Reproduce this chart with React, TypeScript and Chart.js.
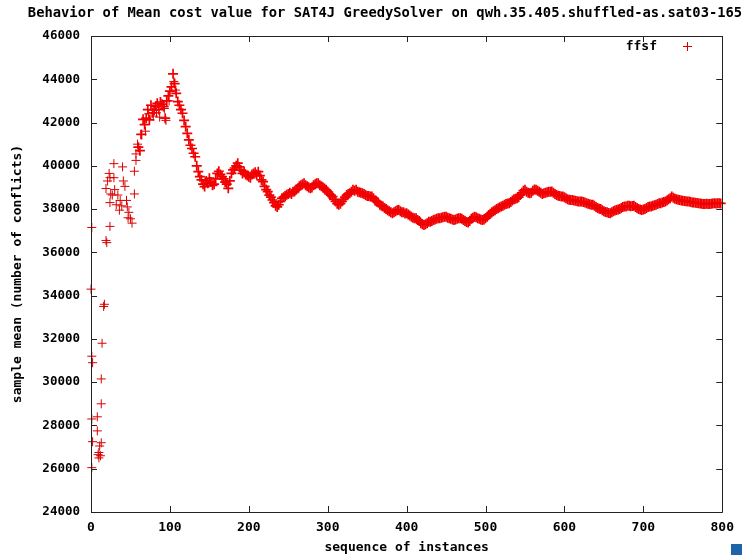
import React, { useEffect, useRef } from "react";
import { Chart, registerables } from "chart.js";

Chart.register(...registerables);

const chartTitle =
  "Behavior of Mean cost value for SAT4J GreedySolver on qwh.35.405.shuffled-as.sat03-165";
const xAxisTitle = "sequence of instances";
const yAxisTitle = "sample mean (number of conflicts)";
const seriesName = "ffsf";

const xTicks = [0, 100, 200, 300, 400, 500, 600, 700, 800];
const yTicks = [24000, 26000, 28000, 30000, 32000, 34000, 36000, 38000, 40000, 42000, 44000, 46000];

// scattered early points (instance index, running mean)
const scatterX = [
  0, 1, 1, 2, 1, 2, 1, 8, 8, 9, 10, 10, 11, 12, 13, 13, 13, 14, 16, 17, 19, 20, 24,
  19, 21, 23, 24, 25, 24, 27, 29, 29, 30, 32, 34, 36, 37, 39, 40, 41, 43, 45, 46, 47,
  48, 50, 52, 55, 55, 57, 57, 59, 63, 69, 73, 79, 83, 87, 93, 95, 99, 105, 107,
];
const scatterY = [
  34300, 37150, 31200, 30900, 28300, 27250, 26050, 28400, 27750, 26650, 26750, 26500,
  27050, 26600, 30150, 29000, 27200, 31800, 33500, 33600, 36550, 36450, 37200, 38950,
  39300, 39650, 38300, 38700, 39450, 38650, 39450, 40100, 38900, 38200, 38650, 37950,
  38400, 38150, 39950, 39300, 39050, 38400, 38100, 37600, 37850, 37550, 37350, 38700,
  39750, 40250, 40550, 41000, 41450, 41600, 42400, 42300, 42450, 42250, 42650, 42100,
  43000, 43900, 43500,
];

// dense part: every second instance starting at 60
const denseStart = 60;
const denseStep = 2;
const denseY = [
  40860, 40700, 41450, 42150, 41900, 42200, 42600, 42120, 42800, 42450,
  42580, 42750, 42890, 42600, 42950, 42850, 42740, 42200, 43000, 43230,
  43450, 43650, 44250, 43800, 43350, 42970, 42800, 42600, 42430, 42100,
  41810, 41500, 41200, 40950, 40800, 40580, 40420, 40000, 39730, 39500,
  39350, 39150, 39040, 39300, 39200, 39430, 39250, 39100, 39150, 39400,
  39650, 39750, 39600, 39500, 39400, 39250, 39150, 38960, 39300, 39650,
  39810, 39900, 40000, 40120, 39950, 39800, 39650, 39730, 39600, 39550,
  39500, 39450, 39600, 39650, 39700, 39600, 39730, 39550, 39350, 39270,
  39050, 38900, 38810, 38650, 38550, 38420, 38300, 38150, 38100, 38200,
  38350, 38500, 38550, 38600, 38660, 38700, 38750, 38700, 38800, 38810,
  38900, 38950, 39050, 39100, 39150, 39190, 39100, 39050, 39000, 38960,
  39000, 39100, 39150, 39200, 39190, 39100, 39050, 39000, 38950, 38890,
  38800, 38700, 38650, 38580, 38450, 38350, 38250, 38200, 38250, 38350,
  38450, 38550, 38650, 38700, 38730, 38800, 38890, 38850, 38890, 38800,
  38780, 38750, 38730, 38700, 38650, 38600, 38600, 38580, 38580, 38500,
  38400, 38350, 38300, 38200, 38150, 38120, 38050, 38000, 37950, 37900,
  37850, 37810, 37850, 37900, 37950, 37960, 37900, 37850, 37850, 37800,
  37810, 37750, 37700, 37650, 37600, 37580, 37580, 37500, 37450, 37350,
  37300, 37270, 37300, 37350, 37420, 37420, 37450, 37500, 37520, 37550,
  37580, 37580, 37600, 37620, 37650, 37650, 37600, 37580, 37550, 37520,
  37500, 37520, 37550, 37580, 37580, 37550, 37500, 37450, 37400, 37380,
  37450, 37550, 37600, 37650, 37620, 37580, 37550, 37520, 37500, 37520,
  37580, 37650, 37730, 37780, 37850, 37900, 37950, 38000, 38040, 38080,
  38120, 38160, 38200, 38230, 38260, 38270, 38330, 38400, 38450, 38480,
  38500, 38550, 38650, 38750, 38850, 38890, 38800, 38750, 38730, 38750,
  38850, 38900, 38890, 38850, 38800, 38750, 38700, 38730, 38750, 38780,
  38800, 38800, 38810, 38750, 38700, 38650, 38620, 38600, 38580, 38580,
  38550, 38500, 38450, 38430, 38420, 38420, 38400, 38380, 38360, 38350,
  38350, 38350, 38330, 38300, 38270, 38250, 38220, 38200, 38200, 38150,
  38100, 38050, 38020, 38000, 37950, 37900, 37870, 37850, 37820, 37810,
  37850, 37900, 37930, 37960, 37980, 38000, 38050, 38100, 38120, 38120,
  38150, 38150, 38130, 38140, 38150, 38100, 38050, 38000, 37980, 37960,
  37980, 38000, 38050, 38100, 38120, 38120, 38150, 38180, 38200, 38230,
  38270, 38270, 38300, 38330, 38350, 38400, 38450, 38500, 38580, 38520,
  38480, 38450, 38430, 38420, 38400, 38380, 38370, 38360, 38350, 38350,
  38330, 38310, 38300, 38290, 38280, 38270, 38260, 38250, 38240, 38240,
  38250, 38240, 38240, 38250, 38260, 38270, 38260, 38270, 38270, 38260,
];

const FONT = '"DejaVu Sans Mono", "Liberation Mono", monospace';
const RED = "#f00000";
const RED_SPARSE = "#d80000";

const framePlugin = {
  id: "gnuplotFrame",
  afterDraw(chart: any) {
    const { ctx, chartArea } = chart;
    const { left, right, top, bottom } = chartArea;
    const xs = chart.scales.x;
    const ys = chart.scales.y;
    ctx.save();
    ctx.strokeStyle = "#222";
    ctx.lineWidth = 1;
    ctx.beginPath();
    ctx.rect(Math.round(left) + 0.5, Math.round(top) + 0.5, Math.round(right - left), Math.round(bottom - top));
    ctx.stroke();
    const tl = 6;
    ctx.beginPath();
    xTicks.forEach((v) => {
      const px = Math.round(xs.getPixelForValue(v)) + 0.5;
      ctx.moveTo(px, bottom);
      ctx.lineTo(px, bottom - tl);
      ctx.moveTo(px, top);
      ctx.lineTo(px, top + tl);
    });
    yTicks.forEach((v) => {
      const py = Math.round(ys.getPixelForValue(v)) + 0.5;
      ctx.moveTo(left, py);
      ctx.lineTo(left + tl, py);
      ctx.moveTo(right, py);
      ctx.lineTo(right - tl, py);
    });
    ctx.stroke();

    // title
    ctx.fillStyle = "#000";
    ctx.font = `bold 13.8px ${FONT}`;
    ctx.textAlign = "center";
    ctx.textBaseline = "middle";
    ctx.fillText(chartTitle, 385, 13);

    // legend inside plot
    ctx.font = `bold 13px ${FONT}`;
    ctx.textAlign = "right";
    ctx.fillText(seriesName, 657, 47);
    ctx.strokeStyle = RED_SPARSE;
    ctx.beginPath();
    ctx.moveTo(683, 46.5);
    ctx.lineTo(692, 46.5);
    ctx.moveTo(687.5, 42);
    ctx.lineTo(687.5, 51);
    ctx.stroke();

    // page corner decoration
    ctx.fillStyle = "#1f63a8";
    ctx.fillRect(731, 544, 11, 11);
    ctx.restore();
  },
};

export default function App() {
  const ref = useRef<HTMLCanvasElement | null>(null);

  useEffect(() => {
    document.body.style.margin = "0";
    const canvas = ref.current;
    if (!canvas) return;
    const points: { x: number; y: number }[] = [];
    scatterX.forEach((x, i) => points.push({ x, y: scatterY[i] }));
    denseY.forEach((y, i) => points.push({ x: denseStart + i * denseStep, y }));
    const nSparse = scatterX.length;

    const tickFont = { family: FONT, weight: "bold" as const, size: 13 };
    const chart = new Chart(canvas, {
      type: "scatter",
      data: {
        datasets: [
          {
            label: seriesName,
            data: points,
            showLine: false,
            clip: false,
            pointStyle: "cross",
            pointRadius: (c: any) => (c.dataIndex < nSparse ? 4.5 : 5),
            pointHoverRadius: 5,
            borderWidth: (c: any) => (c.dataIndex < nSparse ? 1 : 1.7),
            borderColor: (c: any) => (c.dataIndex < nSparse ? RED_SPARSE : RED),
            backgroundColor: RED,
          },
        ],
      },
      options: {
        animation: false,
        responsive: false,
        devicePixelRatio: 1,
        layout: { padding: { top: 36, right: 19, left: 0, bottom: 0 } },
        plugins: {
          legend: { display: false },
          title: { display: false },
          tooltip: { enabled: false },
        },
        scales: {
          x: {
            type: "linear",
            min: 0,
            max: 800,
            afterBuildTicks: (s: any) => {
              s.ticks = xTicks.map((v) => ({ value: v }));
            },
            afterFit: (s: any) => {
              s.height = 43;
            },
            grid: { display: false, drawTicks: false },
            border: { display: false },
            ticks: {
              font: tickFont,
              color: "#000",
              padding: 8,
              maxRotation: 0,
              autoSkip: false,
              callback: (v: any) => String(v),
            },
            title: {
              display: true,
              text: xAxisTitle,
              font: tickFont,
              color: "#000",
              padding: { top: 0, bottom: 0 },
            },
          },
          y: {
            type: "linear",
            min: 24000,
            max: 46000,
            afterBuildTicks: (s: any) => {
              s.ticks = yTicks.map((v) => ({ value: v }));
            },
            afterFit: (s: any) => {
              s.width = 91;
            },
            grid: { display: false, drawTicks: false },
            border: { display: false },
            ticks: {
              font: { family: FONT, weight: "bold" as const, size: 12.5 },
              color: "#000",
              padding: 11,
              autoSkip: false,
              callback: (v: any) => String(v),
            },
            title: {
              display: true,
              text: yAxisTitle,
              font: tickFont,
              color: "#000",
              padding: { top: 10, bottom: 0 },
            },
          },
        },
      },
      plugins: [framePlugin],
    });
    return () => chart.destroy();
  }, []);

  return (
    <div style={{ width: 742, height: 555, background: "#fff" }}>
      <canvas ref={ref} width={742} height={555} style={{ display: "block" }} />
    </div>
  );
}
